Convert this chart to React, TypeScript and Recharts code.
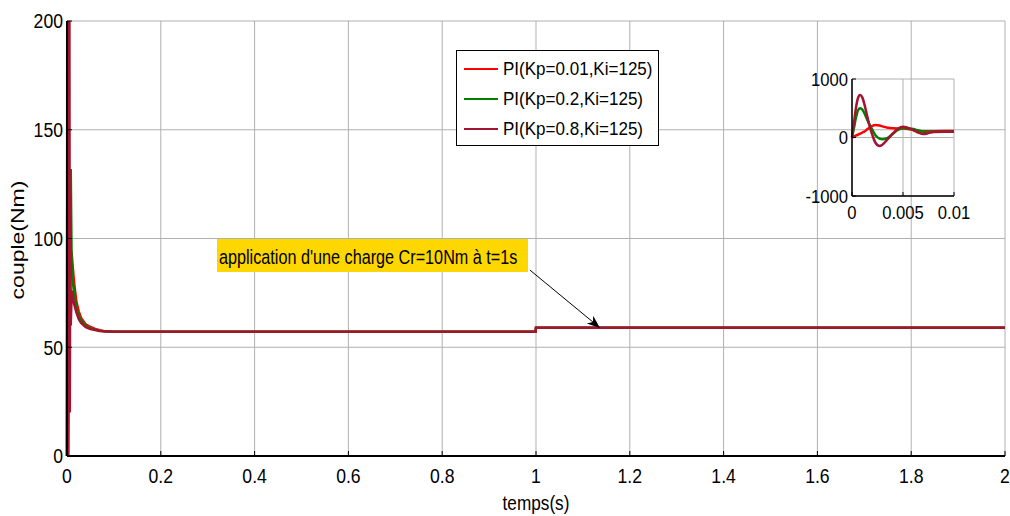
import React from 'react';
import { LineChart, Line, XAxis, YAxis, CartesianGrid, ReferenceLine } from 'recharts';

// ---- main chart data ----
const timeS = [0, 0.001, 0.002, 0.003, 0.004, 0.005, 0.006, 0.007, 0.008, 0.01, 0.015, 0.02, 0.025, 0.03, 0.04, 0.05, 0.06, 0.07, 0.08, 0.09, 0.1, 0.5, 0.999, 1.0, 1.5, 2];
const coupleKp001 = [0, 160, 120, 47, 90, 110, 100, 97, 95, 93, 80, 71, 66.5, 63.5, 60.5, 59.3, 58.4, 57.8, 57.4, 57.2, 57.1, 57.1, 57.1, 59.0, 59.0, 59.0];
const coupleKp02 = [0, 250, 132, 60, 75, 95, 88, 90, 132, 85, 75, 68, 64.5, 62.5, 59.8, 58.8, 58.1, 57.6, 57.3, 57.2, 57.1, 57.1, 57.1, 59.0, 59.0, 59.0];
const coupleKp08 = [0, 400, 250, 0, 50, 230, 20, 120, 60, 76, 70, 66, 63, 61.2, 59.2, 58.4, 57.9, 57.5, 57.3, 57.2, 57.1, 57.1, 57.1, 59.0, 59.0, 59.0];
const xTicks = [0, 0.2, 0.4, 0.6, 0.8, 1, 1.2, 1.4, 1.6, 1.8, 2];
const yTicks = [0, 50, 100, 150, 200];

// ---- inset (zoom on first 10 ms) ----
const insetTime = [0, 0.0002, 0.0004, 0.0006, 0.0008, 0.001, 0.0012, 0.0015, 0.0018, 0.002, 0.0023, 0.0027, 0.003, 0.0035, 0.004, 0.0045, 0.005, 0.0055, 0.006, 0.0065, 0.007, 0.0075, 0.008, 0.009, 0.01];
const insetKp001 = [0, 15, 35, 50, 68, 85, 100, 140, 180, 200, 214, 205, 190, 165, 157, 155, 155, 145, 130, 115, 105, 105, 108, 110, 110];
const insetKp02 = [0, 170, 350, 470, 500, 480, 420, 300, 190, 130, 40, -20, -31, -5, 60, 130, 162, 155, 145, 120, 100, 95, 100, 100, 100];
const insetKp08 = [0, 260, 520, 680, 726, 690, 580, 360, 150, 40, -90, -145, -120, -30, 70, 150, 185, 165, 128, 85, 60, 75, 95, 100, 100];
const insetXTicks = [0, 0.005, 0.01];
const insetYTicks = [-1000, 0, 1000];

const seriesNames = ['PI(Kp=0.01,Ki=125)', 'PI(Kp=0.2,Ki=125)', 'PI(Kp=0.8,Ki=125)'];
const seriesColors = ['#ff0000', '#008000', '#a2142f'];
const annotationText = "application d'une charge Cr=10Nm à t=1s";
const arrowFrom = { x: 0.987, y: 85.5 };
const arrowTo = { x: 1.1365, y: 58.9 };

const mainData = timeS.map((t, i) => ({ t, a: coupleKp001[i], b: coupleKp02[i], c: coupleKp08[i] }));
const insetData = insetTime.map((t, i) => ({ t, a: insetKp001[i], b: insetKp02[i], c: insetKp08[i] }));

const FONT = "'Liberation Sans', Arial, sans-serif";
const GRID = '#b0b0b0';

// condensed tick label renderer (the reference uses a narrow face)
const makeTick = (fontSize: number, sx: number) => (props: any) => {
  const { x, y, payload, textAnchor, verticalAnchor } = props;
  const dy = verticalAnchor === 'start' ? 0.71 * fontSize : verticalAnchor === 'end' ? 0 : 0.355 * fontSize;
  return (
    <text
      transform={`translate(${x},${y + dy}) scale(${sx},1)`}
      x={0}
      y={0}
      textAnchor={textAnchor}
      fontSize={fontSize}
      fontFamily={FONT}
      fill="#000"
    >
      {String(payload.value)}
    </text>
  );
};

const MainTick = makeTick(21, 0.84);
const InsetTick = makeTick(18.5, 0.9);

const Arrow = (p: any) => {
  const { x1, y1, x2, y2 } = p;
  const ang = Math.atan2(y2 - y1, x2 - x1);
  const L = 13;
  const W = 5;
  const bx = x2 - L * Math.cos(ang);
  const by = y2 - L * Math.sin(ang);
  const px = -Math.sin(ang) * W;
  const py = Math.cos(ang) * W;
  const nx = x2 - (L * 0.7) * Math.cos(ang);
  const ny = y2 - (L * 0.7) * Math.sin(ang);
  return (
    <g>
      <line x1={x1} y1={y1} x2={nx} y2={ny} stroke="#000" strokeWidth={1} />
      <polygon points={`${x2},${y2} ${bx + px},${by + py} ${nx},${ny} ${bx - px},${by - py}`} fill="#000" />
    </g>
  );
};

export default function App() {
  return (
    <div style={{ position: 'absolute', left: 0, top: 0, width: 1010, height: 516, background: '#fff', overflow: 'hidden' }}>
      <LineChart width={1010} height={516} data={mainData} margin={{ top: 21, right: 5, bottom: 30, left: 0 }}>
        <CartesianGrid xAxisId="b" yAxisId="l" stroke={GRID} strokeWidth={1} />
        <XAxis
          xAxisId="b"
          dataKey="t"
          type="number"
          domain={[0, 2]}
          ticks={xTicks}
          height={30}
          tickSize={-5}
          tickMargin={17}
          tick={MainTick}
          axisLine={{ stroke: '#000', strokeWidth: 2 }}
          tickLine={{ stroke: '#000' }}
          interval={0}
          label={{
            content: (props: any) => {
              const vb = props.viewBox || { x: 67, y: 456, width: 938 };
              const cx = vb.x + vb.width / 2;
              return (
                <text transform={`translate(${cx},510) scale(0.86,1)`} x={0} y={0} textAnchor="middle" fontSize={20} fontFamily={FONT} fill="#000">
                  temps(s)
                </text>
              );
            },
          }}
        />
        <XAxis xAxisId="t" orientation="top" dataKey="t" type="number" domain={[0, 2]} ticks={xTicks} height={0} tickSize={-5} tick={false} axisLine={{ stroke: '#000', strokeWidth: 1.5 }} tickLine={{ stroke: '#000' }} interval={0} />
        <YAxis
          yAxisId="l"
          type="number"
          domain={[0, 200]}
          allowDataOverflow
          ticks={yTicks}
          width={67}
          tickSize={-5}
          tickMargin={9}
          tick={MainTick}
          axisLine={{ stroke: '#000', strokeWidth: 2 }}
          tickLine={{ stroke: '#000' }}
          interval={0}
          label={{
            content: () => (
              <text transform="translate(24,240) rotate(-90) scale(1,0.8)" x={0} y={0} textAnchor="middle" fontSize={23} fontFamily={FONT} fill="#000">
                couple(Nm)
              </text>
            ),
          }}
        />
        <YAxis yAxisId="r" orientation="right" type="number" domain={[0, 200]} allowDataOverflow ticks={yTicks} width={0} tickSize={-5} tick={false} axisLine={{ stroke: '#000', strokeWidth: 1.5 }} tickLine={{ stroke: '#000' }} interval={0} />
        <Line xAxisId="b" yAxisId="l" dataKey="a" stroke={seriesColors[0]} strokeWidth={2.5} dot={false} isAnimationActive={false} type="linear" />
        <Line xAxisId="b" yAxisId="l" dataKey="b" stroke={seriesColors[1]} strokeWidth={2.5} dot={false} isAnimationActive={false} type="linear" />
        <Line xAxisId="b" yAxisId="l" dataKey="c" stroke={seriesColors[2]} strokeWidth={2.5} dot={false} isAnimationActive={false} type="linear" />
        <ReferenceLine xAxisId="b" yAxisId="l" segment={[arrowFrom, arrowTo]} shape={Arrow} ifOverflow="visible" />
      </LineChart>

      {/* annotation */}
      <div
        style={{
          position: 'absolute', left: 217, top: 239, width: 311, height: 33, background: '#ffd700',
          boxSizing: 'border-box', overflow: 'hidden',
        }}
      >
        <span
          style={{
            position: 'absolute', left: 2, top: 0, fontFamily: FONT, fontSize: 20.5, lineHeight: '35px', color: '#000',
            whiteSpace: 'nowrap', transform: 'scaleX(0.79)', transformOrigin: 'left center',
          }}
        >
          {annotationText}
        </span>
      </div>

      {/* legend */}
      <div style={{ position: 'absolute', left: 456, top: 50, width: 203, height: 96, background: '#fff', border: '1px solid #000', boxSizing: 'border-box' }}>
        {seriesNames.map((n, i) => (
          <div key={n} style={{ position: 'absolute', left: 0, top: 5 + i * 30, height: 26, width: 200 }}>
            <svg width={44} height={26} style={{ position: 'absolute', left: 0, top: 0 }}>
              <line x1={7} y1={13} x2={41} y2={13} stroke={seriesColors[i]} strokeWidth={2} />
            </svg>
            <span
              style={{
                position: 'absolute', left: 46, top: 0, lineHeight: '26px', fontFamily: FONT, fontSize: 18.5, color: '#000',
                whiteSpace: 'nowrap', transform: 'scaleX(0.92)', transformOrigin: 'left center',
              }}
            >
              {n}
            </span>
          </div>
        ))}
      </div>

      {/* inset */}
      <div style={{ position: 'absolute', left: 770, top: 59 }}>
        <LineChart width={210} height={170} data={insetData} margin={{ top: 20, right: 26, bottom: 3, left: 0 }}>
          <CartesianGrid xAxisId="b" yAxisId="l" stroke={GRID} strokeWidth={1} />
          <XAxis xAxisId="b" dataKey="t" type="number" domain={[0, 0.01]} ticks={insetXTicks} height={30} tickSize={-4} tickMargin={14} tick={InsetTick} axisLine={{ stroke: '#000', strokeWidth: 1.5 }} tickLine={{ stroke: '#000' }} interval={0} />
          <XAxis xAxisId="t" orientation="top" dataKey="t" type="number" domain={[0, 0.01]} ticks={insetXTicks} height={0} tickSize={-4} tick={false} axisLine={{ stroke: '#000', strokeWidth: 1.5 }} tickLine={{ stroke: '#000' }} interval={0} />
          <YAxis yAxisId="l" type="number" domain={[-1000, 1000]} allowDataOverflow ticks={insetYTicks} width={82} tickSize={-4} tickMargin={8} tick={InsetTick} axisLine={{ stroke: '#000', strokeWidth: 1.5 }} tickLine={{ stroke: '#000' }} interval={0} />
          <YAxis yAxisId="r" orientation="right" type="number" domain={[-1000, 1000]} allowDataOverflow ticks={insetYTicks} width={0} tickSize={-4} tick={false} axisLine={{ stroke: '#000', strokeWidth: 1.5 }} tickLine={{ stroke: '#000' }} interval={0} />
          <Line xAxisId="b" yAxisId="l" dataKey="a" stroke={seriesColors[0]} strokeWidth={2.5} dot={false} isAnimationActive={false} type="monotone" />
          <Line xAxisId="b" yAxisId="l" dataKey="b" stroke={seriesColors[1]} strokeWidth={2.5} dot={false} isAnimationActive={false} type="monotone" />
          <Line xAxisId="b" yAxisId="l" dataKey="c" stroke={seriesColors[2]} strokeWidth={2.5} dot={false} isAnimationActive={false} type="monotone" />
        </LineChart>
      </div>
    </div>
  );
}
